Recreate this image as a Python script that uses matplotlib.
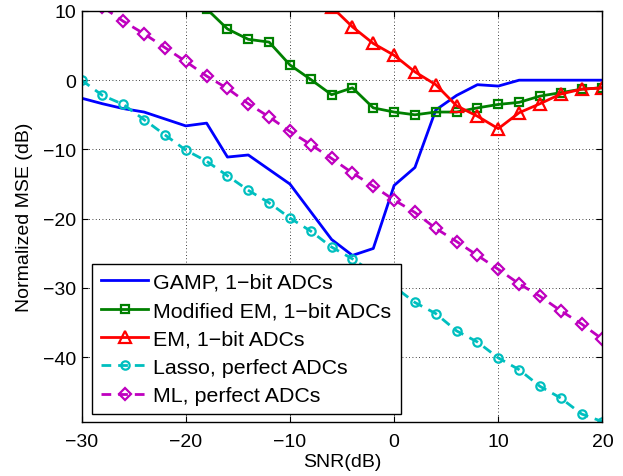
import matplotlib
matplotlib.use("Agg")
import matplotlib.pyplot as plt

plt.rcParams['font.family'] = ['Liberation Sans', 'DejaVu Sans']

snr = [-30, -28, -26, -24, -22, -20, -18, -16, -14, -12, -10, -8, -6, -4, -2,
       0, 2, 4, 6, 8, 10, 12, 14, 16, 18, 20]

gamp = [-2.6, -3.4, -4.1, -4.6, -5.6, -6.6, -6.2, -11.1, -10.8, -12.9, -15.0,
        -19.0, -23.0, -25.3, -24.3, -15.2, -12.6, -4.3, -2.2, -0.65, -0.85,
        0.0, 0.0, 0.0, 0.0, 0.0]

snr_mem = [-18, -16, -14, -12, -10, -8, -6, -4, -2, 0, 2, 4, 6, 8, 10, 12, 14, 16, 18, 20]
mod_em = [10.3, 7.4, 5.9, 5.5, 2.2, 0.1, -2.1, -1.1, -4.0, -4.6, -5.0, -4.6, -4.6,
          -4.0, -3.5, -3.2, -2.3, -1.8, -1.3, -1.1]

snr_em = [-6, -4, -2, 0, 2, 4, 6, 8, 10, 12, 14, 16, 18, 20]
em = [10.6, 7.7, 5.3, 3.6, 1.2, -0.65, -3.7, -5.2, -7.0, -4.7, -3.4, -2.0, -1.3, -1.1]

lasso = [0.0, -2.2, -3.5, -5.7, -7.9, -10.1, -11.7, -13.8, -15.9, -17.7, -19.9,
         -21.8, -24.1, -25.8, -27.8, -29.8, -32.1, -33.7, -36.2, -37.8, -40.1,
         -41.8, -44.2, -45.9, -48.2, -49.3]

ml = [12.6, 10.6, 8.5, 6.7, 4.7, 2.7, 0.6, -1.2, -3.4, -5.3, -7.4, -9.3, -11.3,
      -13.4, -15.3, -17.3, -19.1, -21.4, -23.3, -25.3, -27.3, -29.4, -31.2,
      -33.3, -35.2, -37.4]

labels = ['GAMP, 1\u2212bit ADCs', 'Modified EM, 1\u2212bit ADCs', 'EM, 1\u2212bit ADCs',
          'Lasso, perfect ADCs', 'ML, perfect ADCs']

fig = plt.figure(figsize=(6.23, 4.77), dpi=100)
ax = fig.add_axes([0.131, 0.114, 0.836, 0.861])

lw = 2.0
mew = 1.6
ax.plot(snr, gamp, color=(0, 0, 1), lw=lw, label=labels[0])
ax.plot(snr_mem, mod_em, color=(0, 0.5, 0), lw=lw, marker='s', ms=5.5, mfc='none',
        mew=mew, label=labels[1])
ax.plot(snr_em, em, color=(1, 0, 0), lw=lw, marker='^', ms=8, mfc='none',
        mew=mew, label=labels[2])
ax.plot(snr, lasso, color=(0, 0.75, 0.75), lw=lw, ls=(0, (3.5, 2.5)), marker='o', ms=6,
        mfc='none', mew=mew, label=labels[3])
ax.plot(snr, ml, color=(0.75, 0, 0.75), lw=lw, ls=(0, (3.5, 2.5)), marker='D', ms=6,
        mfc='none', mew=mew, label=labels[4])

ax.set_xlim(-30, 20)
ax.set_ylim(lasso[-1], 10)
ax.set_xticks([-30, -20, -10, 0, 10, 20])
ax.set_yticks([-40, -30, -20, -10, 0, 10])
ax.grid(True, color='black', ls=(0, (1, 3)), lw=0.6)
ax.tick_params(direction='in', top=True, right=True, labelsize=14, length=4)
ax.tick_params(axis='x', pad=8.5)
ax.tick_params(axis='y', pad=4)
for s in ax.spines.values():
    s.set_linewidth(1.0)
ax.set_xlabel('SNR(dB)', fontsize=14, labelpad=2)
ax.set_ylabel('Normalized MSE (dB)', fontsize=14, labelpad=7)

leg = ax.legend(loc='lower left', bbox_to_anchor=(0.02, 0.018), fontsize=15.4,
                fancybox=False, edgecolor='black', framealpha=1,
                handlelength=2.2, handletextpad=0.25, borderpad=0.42,
                labelspacing=0.44, borderaxespad=0.0)
leg.get_frame().set_linewidth(1.0)

fig.savefig('out.png', dpi=100)
